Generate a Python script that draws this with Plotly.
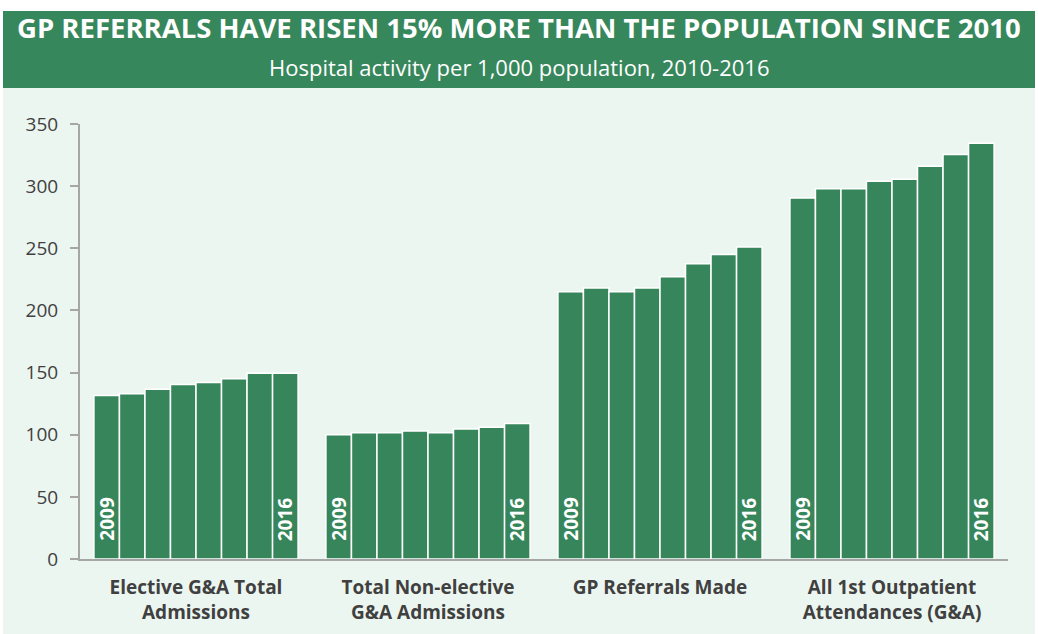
import plotly.graph_objects as go

# categories and values
categories = [
    "Elective G&A Total<br>Admissions",
    "Total Non-elective<br>G&A Admissions",
    "GP Referrals Made",
    "All 1st Outpatient<br>Attendances (G&A)",
]
years = ["2009", "2010", "2011", "2012", "2013", "2014", "2015", "2016"]

elective = [131.5, 133, 136.5, 140.5, 142, 145, 149.5, 149.5]
non_elective = [100, 101.5, 101.5, 103, 101.5, 104.5, 106, 109]
gp_referrals = [215, 218, 215, 218, 227, 237.5, 245, 251]
outpatient = [290.5, 298, 298, 304, 305.5, 316, 325.5, 334.5]

series = [elective, non_elective, gp_referrals, outpatient]

BAR = "#36855b"
BANNER = "#37875c"
BG = "#ecf6f0"
TXT = "#404040"
AXIS = "#a6a6a6"

fig = go.Figure()

for i, yr in enumerate(years):
    fig.add_trace(go.Bar(
        x=categories,
        y=[s[i] for s in series],
        name=yr,
        marker=dict(color=BAR, line=dict(color="white", width=1.5)),
        showlegend=False,
        hoverinfo="x+y+name",
    ))

# year labels inside first/last bar of each group
n = len(years)
w = (1 - 0.12) / n
annotations = []
for k in range(len(categories)):
    for idx, yr in [(0, "2009"), (n - 1, "2016")]:
        xpos = k - (1 - 0.12) / 2 + w * (idx + 0.5)
        annotations.append(dict(
            x=xpos, y=0, xref="x", yref="y", text=yr, showarrow=False,
            textangle=-90, yanchor="bottom", xanchor="center", yshift=16,
            font=dict(family="Open Sans", size=19, color="white", weight="bold"),
        ))

# title + subtitle in banner (centred on the page, not the plot area)
page_mid = (519 - 80) / 928
annotations.append(dict(
    x=page_mid, y=1.2207, xref="paper", yref="paper", showarrow=False,
    text="GP REFERRALS HAVE RISEN 15% MORE THAN THE POPULATION SINCE 2010",
    font=dict(family="Open Sans", size=27.5, color="white", weight="bold"),
    xanchor="center", yanchor="middle",
))
annotations.append(dict(
    x=page_mid, y=1.131, xref="paper", yref="paper", showarrow=False,
    text="Hospital activity per 1,000 population, 2010-2016",
    font=dict(family="Open Sans", size=22, color="white"),
    xanchor="center", yanchor="middle",
))

shapes = [
    # light background panel
    dict(type="rect", xref="paper", yref="paper", x0=-77 / 928, x1=955 / 928,
         y0=-75 / 435, y1=(559 - 88) / 435, fillcolor=BG, line_width=0, layer="below"),
    # green banner
    dict(type="rect", xref="paper", yref="paper", x0=-77 / 928, x1=955 / 928,
         y0=(559 - 88) / 435, y1=(559 - 11) / 435, fillcolor=BANNER, line_width=0, layer="below"),
]

fig.update_layout(
    width=1038, height=634,
    margin=dict(l=80, r=30, t=124, b=75),
    paper_bgcolor="white",
    plot_bgcolor=BG,
    barmode="group",
    bargap=0.12,
    bargroupgap=0,
    font=dict(family="Open Sans", color=TXT),
    annotations=annotations,
    shapes=shapes,
    xaxis=dict(
        showline=True, linecolor=AXIS, linewidth=2, ticks="",
        showgrid=False, tickfont=dict(size=19, color=TXT, weight="bold"),
        ticklabelstandoff=10, automargin=False,
    ),
    yaxis=dict(
        range=[0, 350], dtick=50, showgrid=False, zeroline=False,
        showline=True, linecolor=AXIS, linewidth=2,
        ticks="outside", ticklen=8, tickcolor=AXIS, tickwidth=2,
        tickfont=dict(size=19, color=TXT), ticklabelstandoff=8,
        automargin=False,
    ),
)

# page body margin off so the figure sits at the window's corner
fig.write_html("out.html", config={"displayModeBar": False},
               post_script="document.body.style.margin='0';")
